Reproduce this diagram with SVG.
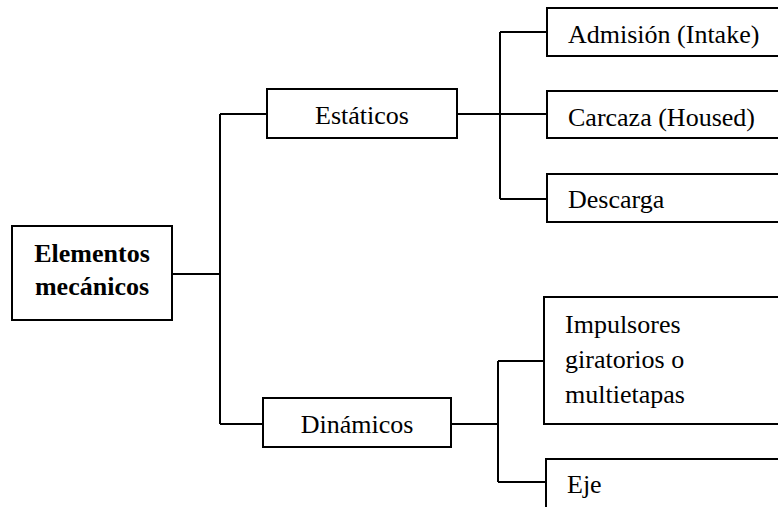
<svg xmlns="http://www.w3.org/2000/svg" width="778" height="507" viewBox="0 0 778 507">
  <style>
    .box { fill: #fff; stroke: #000; stroke-width: 2; }
    .wire { fill: none; stroke: #000; stroke-width: 2; }
    text { font-family: "Liberation Serif", "Times New Roman", serif; font-size: 26px; fill: #000; }
    .bold { font-weight: bold; }
    .mid { text-anchor: middle; }
  </style>
  <rect width="778" height="507" fill="#fff"/>

  <!-- tree connectors -->
  <g id="connectors">
    <path class="wire" d="M172 274 H220 M220 114 V424 M220 114 H267 M220 424 H263"/>
    <path class="wire" d="M457 114 H500 M500 32 V199 M500 32 H547 M500 114 H547 M500 199 H547"/>
    <path class="wire" d="M451 424 H498 M498 361 V482 M498 361 H544 M498 482 H546"/>
  </g>

  <g id="root">
    <rect class="box" x="12" y="226" width="160" height="94"/>
    <text class="bold mid" x="92" y="262">Elementos</text>
    <text class="bold mid" x="92" y="295">mecánicos</text>
  </g>

  <g id="estaticos">
    <rect class="box" x="267" y="89" width="190" height="49"/>
    <text class="mid" x="362" y="124">Estáticos</text>
  </g>

  <g id="dinamicos">
    <rect class="box" x="263" y="398" width="188" height="49"/>
    <text class="mid" x="357" y="433">Dinámicos</text>
  </g>

  <g id="admision">
    <rect class="box" x="547" y="8" width="243" height="48"/>
    <text x="568" y="43">Admisión (Intake)</text>
  </g>

  <g id="carcaza">
    <rect class="box" x="547" y="91" width="243" height="47"/>
    <text x="568" y="126">Carcaza (Housed)</text>
  </g>

  <g id="descarga">
    <rect class="box" x="547" y="174" width="243" height="48"/>
    <text x="568" y="208">Descarga</text>
  </g>

  <g id="impulsores">
    <rect class="box" x="544" y="297" width="246" height="127"/>
    <text x="565" y="333">Impulsores</text>
    <text x="565" y="368">giratorios o</text>
    <text x="565" y="403">multietapas</text>
  </g>

  <g id="eje">
    <rect class="box" x="546" y="459" width="244" height="60"/>
    <text x="567" y="493">Eje</text>
  </g>
</svg>
